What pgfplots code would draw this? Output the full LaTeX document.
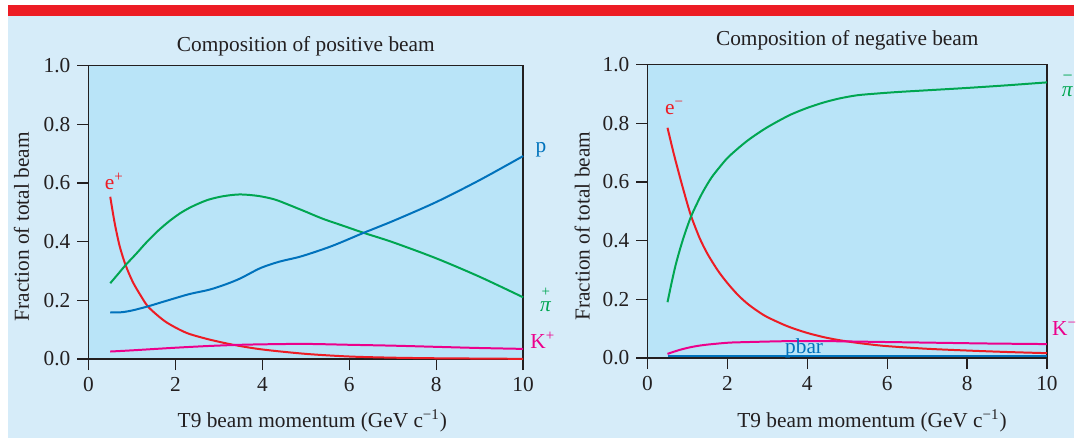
\documentclass[border=0pt]{standalone}
\usepackage{fontspec}
\setmainfont{Liberation Serif}
\usepackage{pgfplots}
\pgfplotsset{compat=1.18}
\definecolor{panelbg}{RGB}{214,236,249}
\definecolor{axisfill}{RGB}{185,228,248}
\definecolor{barred}{RGB}{237,28,36}
\definecolor{cred}{RGB}{237,28,36}
\definecolor{cgreen}{RGB}{0,166,81}
\definecolor{cblue}{RGB}{0,114,188}
\definecolor{cmag}{RGB}{236,0,140}
\definecolor{axisgray}{RGB}{35,31,32}
\pgfplotsset{
  beamaxis/.style={
    scale only axis,
    anchor=south west,
    height=147pt,
    xmin=0, xmax=10, ymin=0, ymax=1,
    clip=false,
    font=\fontsize{10.7}{12.8}\selectfont,
    axis background/.style={fill=axisfill},
    axis line style={draw=axisgray, line width=0.7pt},
    tick style={draw=axisgray, line width=0.7pt},
    tick align=outside,
    major tick length=5.6pt,
    xtick pos=bottom, ytick pos=left,
    xtick={0,2,4,6,8,10},
    ytick={0,0.2,0.4,0.6,0.8,1.0},
    /pgf/number format/assume math mode=true,
    yticklabel style={/pgf/number format/.cd, fixed, fixed zerofill, precision=1},
    ticklabel style={text=axisgray},
    label style={text=axisgray},
    title style={text=axisgray},
    every axis plot/.append style={line width=1pt, no markers},
  }
}
\begin{document}
\begin{tikzpicture}
\fill[white] (0,0) rectangle (538.5pt,219.5pt);
\fill[panelbg] (3.8pt,0) rectangle (538.5pt,211.5pt);
\fill[barred] (3.8pt,211.5pt) rectangle (538.5pt,217pt);

% ---------------- positive beam ----------------
\begin{axis}[beamaxis,
  at={(44.4pt,39.5pt)}, width=218pt,
  title={Composition of positive beam},
  title style={at={(axis description cs:0.5,1)}, anchor=base, yshift=1.2pt},
  xlabel={T9 beam momentum (GeV c\textsuperscript{−1})},
  xlabel style={at={(axis description cs:0.515,-0.235)}, anchor=base},
  ylabel={Fraction of total beam},
  ylabel style={at={(axis description cs:-0.137,0.4507)}, anchor=base},
]
% e+
\addplot[cred, smooth] coordinates {
(0.5,0.553) (0.6,0.465) (0.716,0.385) (0.853,0.32) (1.02,0.262) (1.2,0.216)
(1.365,0.179) (1.59,0.148) (1.79,0.125) (2.05,0.103) (2.32,0.085) (2.78,0.066)
(3.33,0.048) (4,0.032) (5,0.017) (6,0.008) (7,0.004) (8,0.002) (9,0.001) (10,0.0)};
% pi+
\addplot[cgreen, smooth] coordinates {
(0.5,0.258) (0.7,0.293) (0.853,0.32) (1.1,0.359) (1.33,0.397) (1.6,0.437)
(1.86,0.470) (2.1,0.496) (2.32,0.515) (2.55,0.531) (2.78,0.544) (3.1,0.555)
(3.48,0.561) (3.9,0.556) (4.28,0.544) (4.6,0.526) (5.0,0.502) (5.39,0.478)
(5.9,0.452) (6.33,0.43) (7,0.398) (8,0.343) (9,0.28) (10,0.21)};
% p
\addplot[cblue, smooth] coordinates {
(0.5,0.159) (0.75,0.159) (1.0,0.165) (1.365,0.179) (1.79,0.198) (2.32,0.221)
(2.78,0.236) (3.17,0.255) (3.5,0.275) (3.96,0.31) (4.4,0.332) (4.9,0.35)
(5.6,0.385) (6.33,0.43) (7,0.47) (8,0.535) (9,0.61) (10,0.692)};
% K+
\addplot[cmag, smooth] coordinates {
(0.5,0.025) (1,0.029) (2,0.038) (2.78,0.044) (3.5,0.048) (4.2,0.05) (5,0.051)
(6,0.048) (7,0.045) (8,0.041) (9,0.037) (10,0.034)};
\node[anchor=base west, text=cred, inner sep=0pt] at (axis cs:0.37,0.578) {e\textsuperscript{+}};
\node[anchor=base west, text=cblue, inner sep=0pt] at (axis cs:10.28,0.704) {p};
\node[anchor=base, text=cgreen, inner sep=0pt] at (axis cs:10.52,0.16)
  {\textit{π}\makebox[0pt][r]{\raisebox{8pt}{\makebox[5.4pt][c]{\fontsize{7.5}{9}\selectfont +}}}};
\node[anchor=base west, text=cmag, inner sep=0pt] at (axis cs:10.16,0.034) {K\textsuperscript{+}};
\end{axis}

% ---------------- negative beam ----------------
\begin{axis}[beamaxis,
  at={(324.8pt,40pt)}, width=200.35pt,
  title={Composition of negative beam},
  title style={at={(axis description cs:0.5,1)}, anchor=base, yshift=3.8pt},
  xlabel={T9 beam momentum (GeV c\textsuperscript{−1})},
  xlabel style={at={(axis description cs:0.562,-0.238)}, anchor=base},
  ylabel={Fraction of total beam},
  ylabel style={at={(axis description cs:-0.145,0.449)}, anchor=base},
]
% e-
\addplot[cred, smooth] coordinates {
(0.5,0.785) (0.65,0.70) (0.8,0.622) (0.95,0.548) (1.09,0.484) (1.3,0.41)
(1.5,0.355) (1.76,0.298) (2.0,0.255) (2.26,0.215) (2.5,0.185) (2.75,0.16)
(3,0.139) (3.5,0.108) (4,0.085) (4.5,0.068) (5,0.056) (5.5,0.047) (6,0.040)
(7,0.031) (8,0.025) (9,0.020) (10,0.016)};
% pi-
\addplot[cgreen, smooth] coordinates {
(0.5,0.19) (0.6,0.255) (0.7,0.315) (0.8,0.365) (0.9,0.41) (1.0,0.45)
(1.1,0.486) (1.25,0.53) (1.4,0.57) (1.6,0.615) (1.8,0.65) (2.0,0.682)
(2.25,0.713) (2.5,0.741) (2.76,0.766) (3.0,0.787) (3.3,0.81) (3.6,0.831)
(4.0,0.853) (4.4,0.871) (4.8,0.885) (5.25,0.896) (5.75,0.902) (6.25,0.907)
(7,0.913) (8,0.921) (9,0.93) (10,0.94)};
% K-
\addplot[cmag, smooth] coordinates {
(0.5,0.0136) (0.8,0.027) (1.1,0.037) (1.42,0.044) (1.95,0.051) (2.26,0.053)
(3.5,0.057) (4.5,0.057) (5.5,0.055) (6.5,0.053) (7.5,0.051) (8.5,0.049) (10,0.047)};
% pbar
\addplot[cblue] coordinates {(0.5,0.005) (10,0.005)};
\node[anchor=base west, text=cred, inner sep=0pt] at (axis cs:0.43,0.83) {e\textsuperscript{−}};
\node[anchor=base, text=cgreen, inner sep=0pt] at (axis cs:10.51,0.892)
  {\textit{π}\makebox[0pt][r]{\raisebox{7.7pt}{\makebox[5.4pt][c]{\fontsize{9}{10}\selectfont −}}}};
\node[anchor=base west, text=cmag, inner sep=0pt] at (axis cs:10.12,0.076) {K\textsuperscript{−}};
\node[anchor=base, text=cblue, inner sep=0pt] at (axis cs:3.92,0.016) {pbar};
\end{axis}
\end{tikzpicture}
\end{document}
